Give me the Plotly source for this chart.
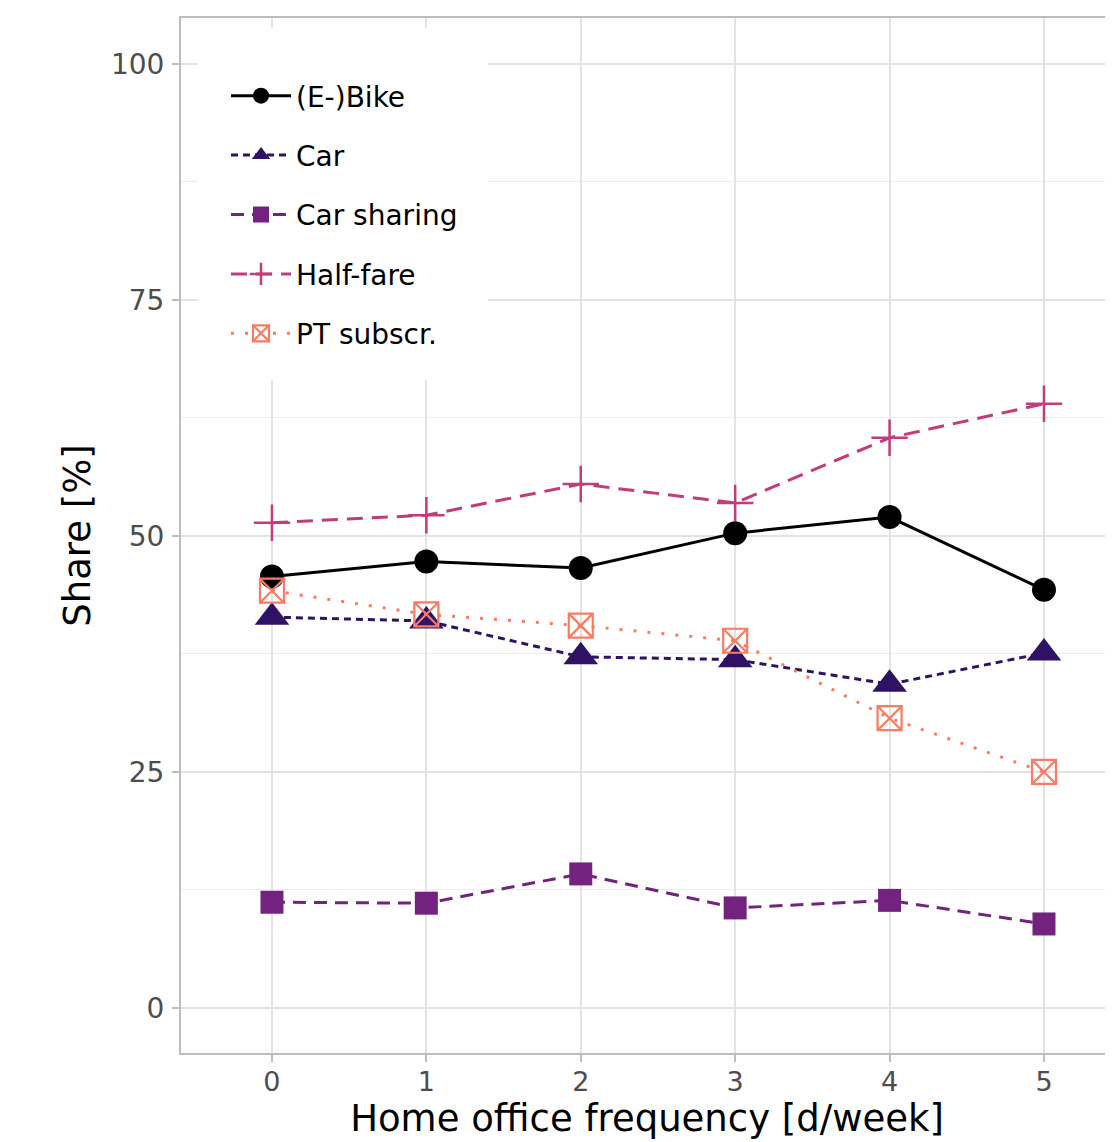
import plotly.graph_objects as go

x_days = [0, 1, 2, 3, 4, 5]
series_names = ["(E-)Bike", "Car", "Car sharing", "Half-fare", "PT subscr."]
bike = [45.7, 47.3, 46.6, 50.3, 52.0, 44.3]
car = [41.4, 41.0, 37.2, 36.9, 34.3, 37.6]
car_sharing = [11.2, 11.1, 14.2, 10.6, 11.4, 8.9]
half_fare = [51.4, 52.2, 55.5, 53.5, 60.4, 64.0]
pt_subscr = [44.2, 41.7, 40.5, 38.9, 30.7, 25.0]
y_ticks = [0, 25, 50, 75, 100]

values = [bike, car, car_sharing, half_fare, pt_subscr]
colors = ["#000000", "#2F1264", "#73237F", "#C13C7C", "#FB7B62"]
symbols = ["circle", "triangle-up", "square", "cross-thin-open", "square-x-open"]
msizes = [24, 30, 23, 26, 24]
mline = [0, 0, 0, 2.5, 2.2]
dashes = ["solid", "7px,5px", "13px,8px", "16px,9px", "3px,11px"]

fig = go.Figure()
for i, (name, vals) in enumerate(zip(series_names, values)):
    fig.add_trace(go.Scatter(
        x=x_days, y=vals, name=name, mode="lines+markers",
        legendgroup=f"g{i}",
        line=dict(color=colors[i], width=3, dash=dashes[i]),
        marker=dict(symbol=symbols[i], size=msizes[i], color=colors[i],
                    line=dict(color=colors[i], width=mline[i])),
    ))

# figure is placed 8px into the page, so work in figure coordinates
W, H = 1105, 1134
L, R, T, B = 173, 0, 10, 89
pw, ph = W - L - R, H - T - B
base = H - B


def px(xf):
    return (xf - L) / pw


def py(yf):
    return (base - yf) / ph


# white legend background box
fig.add_shape(type="rect", xref="paper", yref="paper",
              x0=px(190), x1=px(480), y0=py(372), y1=py(20),
              fillcolor="white", line=dict(width=0), layer="above")

font_family = "DejaVu Sans"
fig.update_layout(
    width=W, height=H,
    margin=dict(l=L, r=R, t=T, b=B),
    plot_bgcolor="white", paper_bgcolor="white",
    font=dict(family=font_family, color="#000000"),
    showlegend=True,
    legend=dict(
        x=px(218), y=py(63), xanchor="left", yanchor="top",
        bgcolor="rgba(0,0,0,0)", font=dict(size=28, family=font_family, color="#000000"),
        itemwidth=60, tracegroupgap=20, traceorder="grouped",
    ),
    xaxis=dict(
        range=[-0.589, 5.447], tickvals=x_days, ticktext=[str(v) for v in x_days],
        showgrid=True, gridcolor="#E3E3E3", gridwidth=1.5,
        showline=True, linecolor="#BDBDBD", linewidth=2, mirror=True,
        ticks="outside", ticklen=7, tickcolor="#BDBDBD", tickwidth=2,
        tickfont=dict(size=27, color="#4D4D4D"),
        ticklabelstandoff=-3,
        zeroline=False,
        title=dict(text="Home office frequency [d/week]", font=dict(size=37, color="#000000"), standoff=7),
    ),
    yaxis=dict(
        range=[-4.77, 104.87], tickvals=y_ticks,
        showgrid=True, gridcolor="#E3E3E3", gridwidth=1.5,
        minor=dict(tickvals=[12.5, 37.5, 62.5, 87.5], showgrid=True, gridcolor="#EDEDED", gridwidth=1, ticks=""),
        showline=True, linecolor="#BDBDBD", linewidth=2,
        ticks="outside", ticklen=7, tickcolor="#BDBDBD", tickwidth=2,
        tickfont=dict(size=28, color="#4D4D4D"),
        ticklabelstandoff=2,
        zeroline=False,
        title=dict(text="Share [%]", font=dict(size=37, color="#000000"), standoff=9),
    ),
)

fig.write_html("out.html")
